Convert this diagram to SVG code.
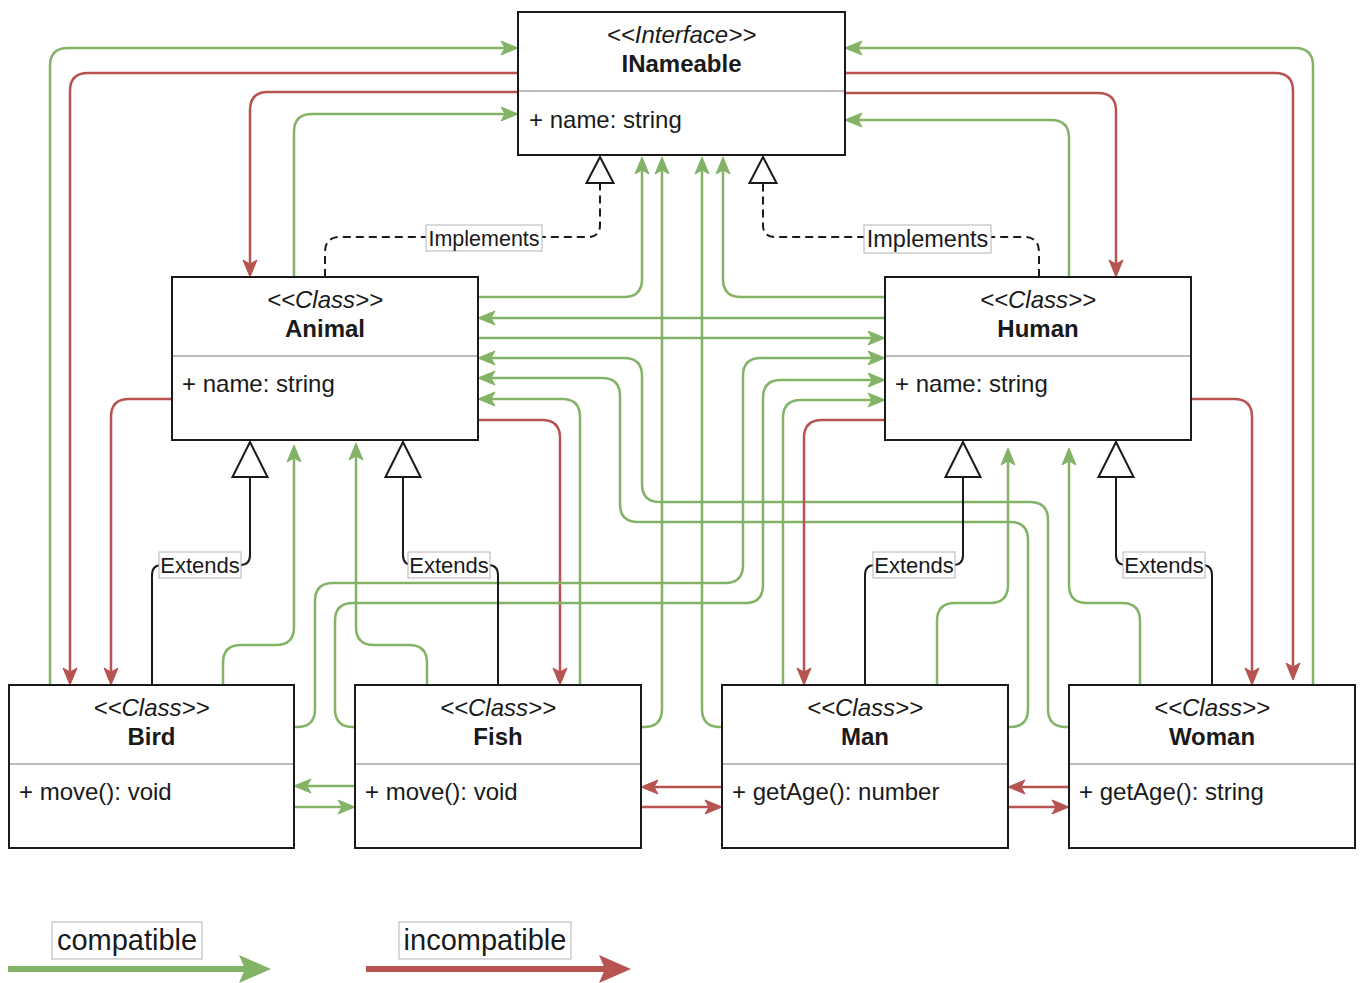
<svg xmlns="http://www.w3.org/2000/svg" width="1361" height="983" viewBox="0 0 1361 983">
<style>
.box{fill:#fff;stroke:#1a1a1a;stroke-width:2}
.div{stroke:#a6a6a6;stroke-width:1.5}
.t{font-family:"Liberation Sans",Arial,sans-serif;font-size:24px;fill:#1a1a1a}
.st{font-style:italic;text-anchor:middle}
.nm{font-weight:bold;text-anchor:middle}
.c{fill:none;stroke-width:2.5}
.g{stroke:#82b366;marker-end:url(#ag)}
.gn{stroke:#82b366}
.r{stroke:#b85450;marker-end:url(#ar)}
.ext{fill:none;stroke:#1a1a1a;stroke-width:2;marker-end:url(#triL)}
.imp{fill:none;stroke:#1a1a1a;stroke-width:2;stroke-dasharray:8 5;marker-end:url(#triS)}
.lb{fill:#fff;stroke:#b3b3b3;stroke-width:1}
.lt{font-family:"Liberation Sans",Arial,sans-serif;font-size:22px;fill:#1a1a1a;text-anchor:middle}
</style>
<defs>
<marker id="ag" markerUnits="userSpaceOnUse" markerWidth="20" markerHeight="18" refX="13" refY="8" orient="auto" overflow="visible"><path d="M0,1 L17,8 L0,15 L4,8 Z" fill="#82b366" stroke="#82b366" stroke-width="1"/></marker>
<marker id="ar" markerUnits="userSpaceOnUse" markerWidth="20" markerHeight="18" refX="13" refY="8" orient="auto" overflow="visible"><path d="M0,1 L17,8 L0,15 L4,8 Z" fill="#b85450" stroke="#b85450" stroke-width="1"/></marker>
<marker id="agL" markerUnits="userSpaceOnUse" markerWidth="34" markerHeight="30" refX="6" refY="14" orient="auto" overflow="visible"><path d="M0,0 L32,14 L0,28 L6,14 Z" fill="#82b366"/></marker>
<marker id="arL" markerUnits="userSpaceOnUse" markerWidth="34" markerHeight="30" refX="6" refY="14" orient="auto" overflow="visible"><path d="M0,0 L32,14 L0,28 L6,14 Z" fill="#b85450"/></marker>
<marker id="triL" markerUnits="userSpaceOnUse" markerWidth="40" markerHeight="40" refX="0" refY="17.5" orient="auto" overflow="visible"><path d="M0,0 L35,17.5 L0,35 Z" fill="#fff" stroke="#1a1a1a" stroke-width="2"/></marker>
<marker id="triS" markerUnits="userSpaceOnUse" markerWidth="30" markerHeight="30" refX="0" refY="13.5" orient="auto" overflow="visible"><path d="M0,0 L26,13.5 L0,27 Z" fill="#fff" stroke="#1a1a1a" stroke-width="2"/></marker>
</defs>

<g id="connectors">
<!-- to/from INameable, outer -->
<path class="c g" d="M50,685 V66 Q50,48 68,48 H514"/>
<path class="c r" d="M518,73 H88 Q70,73 70,91 V681"/>
<path class="c r" d="M518,92 H268 Q250,92 250,110 V273"/>
<path class="c g" d="M294,277 V132 Q294,114 312,114 H514"/>
<path class="c g" d="M1313,685 V66 Q1313,48 1295,48 H849"/>
<path class="c r" d="M845,73 H1275 Q1293,73 1293,91 V676"/>
<path class="c r" d="M845,93 H1098 Q1116,93 1116,111 V273"/>
<path class="c g" d="M1069,277 V138 Q1069,120 1051,120 H849"/>
<!-- into INameable bottom -->
<path class="c g" d="M478,297 H624 Q642,297 642,279 V161"/>
<path class="c g" d="M641,727 H644 Q662,727 662,709 V161"/>
<path class="c g" d="M722,727 H720 Q702,727 702,709 V161"/>
<path class="c g" d="M885,297 H741 Q723,297 723,279 V161"/>
<!-- Animal <-> Human -->
<path class="c g" d="M885,318 H482"/>
<path class="c g" d="M478,338 H881"/>
<!-- into Animal right -->
<path class="c g" d="M1069,727 H1066 Q1048,727 1048,709 V520 Q1048,502 1030,502 H660 Q642,502 642,484 V376 Q642,358 624,358 H482"/>
<path class="c g" d="M1008,727 H1010 Q1028,727 1028,709 V540 Q1028,522 1010,522 H638 Q620,522 620,504 V396 Q620,378 602,378 H482"/>
<path class="c g" d="M580,685 V417 Q580,399 562,399 H482"/>
<path class="c r" d="M478,420 H542 Q560,420 560,438 V681"/>
<!-- into Human left -->
<path class="c g" d="M294,727 H297 Q315,727 315,709 V601 Q315,583 333,583 H725 Q743,583 743,565 V376 Q743,358 761,358 H881"/>
<path class="c g" d="M355,727 H353 Q335,727 335,709 V621 Q335,603 353,603 H745 Q763,603 763,585 V398 Q763,380 781,380 H881"/>
<path class="c g" d="M783,685 V418 Q783,400 801,400 H881"/>
<path class="c r" d="M885,420 H822 Q804,420 804,438 V681"/>
<!-- into Animal / Human bottom -->
<path class="c g" d="M223,685 V663 Q223,645 241,645 H276 Q294,645 294,627 V449"/>
<path class="c g" d="M427,685 V663 Q427,645 409,645 H374 Q356,645 356,627 V447"/>
<path class="c g" d="M937,685 V621 Q937,603 955,603 H990 Q1008,603 1008,585 V452"/>
<path class="c g" d="M1140,685 V621 Q1140,603 1122,603 H1087 Q1069,603 1069,585 V452"/>
<!-- side reds -->
<path class="c r" d="M172,399 H129 Q111,399 111,417 V681"/>
<path class="c r" d="M1191,399 H1234 Q1252,399 1252,417 V681"/>
<!-- bottom row -->
<path class="c g" d="M355,786 H298"/>
<path class="c g" d="M294,807 H351"/>
<path class="c r" d="M722,787 H645"/>
<path class="c r" d="M641,807 H718"/>
<path class="c r" d="M1069,787 H1012"/>
<path class="c r" d="M1008,807 H1065"/>
<!-- extends -->
<path class="ext" d="M152,685 V575 Q152,565 162,565 H240 Q250,565 250,555 V477"/>
<path class="ext" d="M498,685 V575 Q498,565 488,565 H413 Q403,565 403,555 V477"/>
<path class="ext" d="M865,685 V575 Q865,565 875,565 H953 Q963,565 963,555 V477"/>
<path class="ext" d="M1212,685 V575 Q1212,565 1202,565 H1126 Q1116,565 1116,555 V477"/>
<!-- implements -->
<path class="imp" d="M325,277 V252 Q325,237 340,237 H588 Q600,237 600,225 V183"/>
<path class="imp" d="M1039,277 V252 Q1039,237 1024,237 H775 Q763,237 763,225 V183"/>
<!-- labels -->
<g id="lbl-impl-animal"><rect class="lb" x="426" y="225" width="116" height="26"/><text class="lt" x="484" y="245.5" style="font-size:21.5px">Implements</text></g>
<g id="lbl-impl-human"><rect class="lb" x="864" y="225" width="127" height="28"/><text class="lt" x="927.5" y="247" style="font-size:23.5px">Implements</text></g>
<g id="lbl-ext-bird"><rect class="lb" x="159" y="552" width="82" height="26"/><text class="lt" x="200" y="572.5">Extends</text></g>
<g id="lbl-ext-fish"><rect class="lb" x="408" y="552" width="82" height="26"/><text class="lt" x="449" y="572.5">Extends</text></g>
<g id="lbl-ext-man"><rect class="lb" x="873" y="552" width="82" height="26"/><text class="lt" x="914" y="572.5">Extends</text></g>
<g id="lbl-ext-woman"><rect class="lb" x="1123" y="552" width="82" height="26"/><text class="lt" x="1164" y="572.5">Extends</text></g>
</g>

<g id="INameable">
<rect class="box" x="518" y="12" width="327" height="143"/>
<line class="div" x1="519" y1="91" x2="844" y2="91"/>
<text class="t st" x="681.5" y="43">&lt;&lt;Interface&gt;&gt;</text>
<text class="t nm" x="681.5" y="72">INameable</text>
<text class="t" x="529" y="128">+ name: string</text>
</g>
<g id="Animal">
<rect class="box" x="172" y="277" width="306" height="163"/>
<line class="div" x1="173" y1="356" x2="477" y2="356"/>
<text class="t st" x="325" y="308">&lt;&lt;Class&gt;&gt;</text>
<text class="t nm" x="325" y="337">Animal</text>
<text class="t" x="182" y="392">+ name: string</text>
</g>
<g id="Human">
<rect class="box" x="885" y="277" width="306" height="163"/>
<line class="div" x1="886" y1="356" x2="1190" y2="356"/>
<text class="t st" x="1038" y="308">&lt;&lt;Class&gt;&gt;</text>
<text class="t nm" x="1038" y="337">Human</text>
<text class="t" x="895" y="392">+ name: string</text>
</g>
<g id="Bird">
<rect class="box" x="9" y="685" width="285" height="163"/>
<line class="div" x1="10" y1="764" x2="293" y2="764"/>
<text class="t st" x="151.5" y="716">&lt;&lt;Class&gt;&gt;</text>
<text class="t nm" x="151.5" y="745">Bird</text>
<text class="t" x="19" y="800">+ move(): void</text>
</g>
<g id="Fish">
<rect class="box" x="355" y="685" width="286" height="163"/>
<line class="div" x1="356" y1="764" x2="640" y2="764"/>
<text class="t st" x="498" y="716">&lt;&lt;Class&gt;&gt;</text>
<text class="t nm" x="498" y="745">Fish</text>
<text class="t" x="365" y="800">+ move(): void</text>
</g>
<g id="Man">
<rect class="box" x="722" y="685" width="286" height="163"/>
<line class="div" x1="723" y1="764" x2="1007" y2="764"/>
<text class="t st" x="865" y="716">&lt;&lt;Class&gt;&gt;</text>
<text class="t nm" x="865" y="745">Man</text>
<text class="t" x="732" y="800">+ getAge(): number</text>
</g>
<g id="Woman">
<rect class="box" x="1069" y="685" width="286" height="163"/>
<line class="div" x1="1070" y1="764" x2="1354" y2="764"/>
<text class="t st" x="1212" y="716">&lt;&lt;Class&gt;&gt;</text>
<text class="t nm" x="1212" y="745">Woman</text>
<text class="t" x="1079" y="800">+ getAge(): string</text>
</g>

<g id="legend">
<line x1="8" y1="969" x2="245" y2="969" stroke="#82b366" stroke-width="6" marker-end="url(#agL)"/>
<rect class="lb" x="52" y="922" width="150" height="37"/>
<text class="lt" x="127" y="950" style="font-size:29px">compatible</text>
<line x1="366" y1="969" x2="605" y2="969" stroke="#b85450" stroke-width="6" marker-end="url(#arL)"/>
<rect class="lb" x="399" y="922" width="172" height="37"/>
<text class="lt" x="485" y="950" style="font-size:29px">incompatible</text>
</g>
</svg>
